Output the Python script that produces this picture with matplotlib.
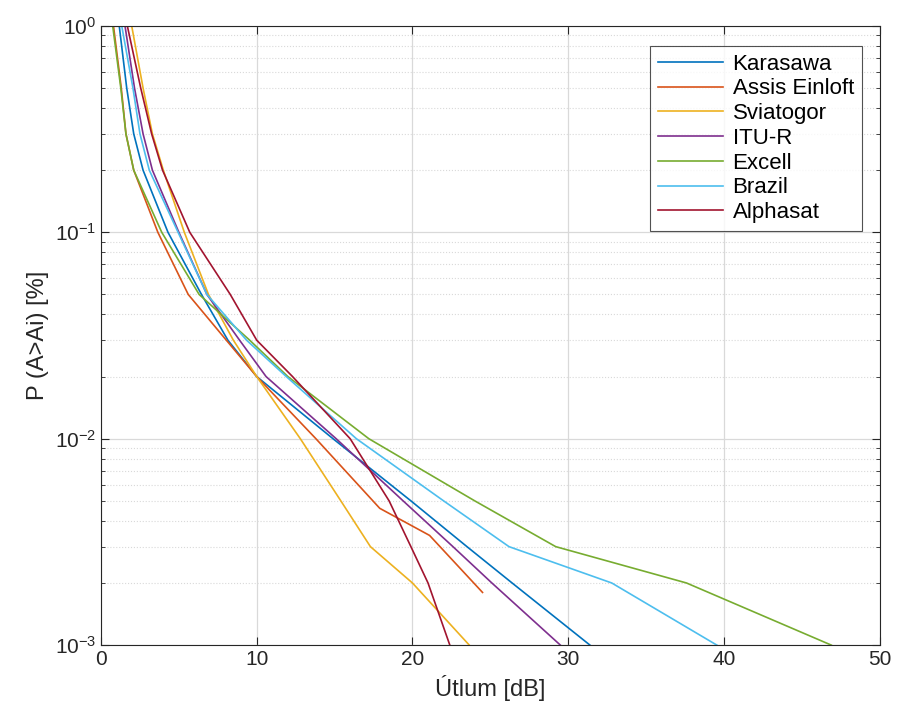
import numpy as np
import matplotlib
matplotlib.use('Agg')
import matplotlib.pyplot as plt
from matplotlib.ticker import LogLocator, NullFormatter

plt.rcParams['font.family'] = ['Liberation Sans', 'DejaVu Sans']
plt.rcParams['axes.unicode_minus'] = False

# percentage of time (P) and attenuation (dB) per model
p_std = [1, 0.5, 0.3, 0.2, 0.1, 0.05, 0.03, 0.02, 0.01, 0.005, 0.003, 0.002, 0.001]

karasawa = [1.17, 1.65, 2.1, 2.7, 4.3, 6.45, 8.15, 10.0, 14.9, 19.9, 23.5, 26.4, 31.4]
sviatogor = [1.97, 2.7, 3.3, 4.0, 5.35, 6.9, 8.5, 10.0, 12.8, 15.4, 17.3, 20.0, 23.65]
itur = [1.54, 2.15, 2.7, 3.3, 5.0, 6.8, 8.9, 10.6, 15.1, 19.4, 22.6, 25.1, 29.5]
excell = [0.75, 1.27, 1.6, 2.1, 3.9, 6.3, 9.55, 12.0, 17.2, 24.0, 29.2, 37.6, 46.9]
brazil = [1.33, 2.05, 2.5, 3.1, 4.95, 6.8, 9.35, 11.9, 16.4, 22.0, 26.2, 32.8, 39.55]
alphasat = [1.69, 2.55, 3.25, 3.95, 5.7, 8.3, 10.0, 12.3, 16.0, 18.5, 19.9, 21.0, 22.4]

# Assis Einloft stops before 0.001 %
p_assis = [1, 0.5, 0.3, 0.2, 0.1, 0.05, 0.03, 0.02, 0.01, 0.0046, 0.0034, 0.0018]
assis = [0.8, 1.3, 1.6, 2.1, 3.65, 5.6, 8.05, 10.0, 13.8, 17.9, 21.1, 24.5]

names = ['Karasawa', 'Assis Einloft', 'Sviatogor', 'ITU-R', 'Excell', 'Brazil', 'Alphasat']
colors = ['#0072BD', '#D95319', '#EDB120', '#7E2F8E', '#77AC30', '#4DBEEE', '#A2142F']

fig = plt.figure(figsize=(8.98, 7.2), dpi=100)
ax = fig.add_axes([0.1125, 0.104, 0.867, 0.86])

series = [(karasawa, p_std), (assis, p_assis), (sviatogor, p_std), (itur, p_std),
          (excell, p_std), (brazil, p_std), (alphasat, p_std)]
for (x, p), name, c in zip(series, names, colors):
    ax.plot(x, p, color=c, lw=1.2, label=name)

ax.set_yscale('log')
ax.set_xlim(0, 50)
ax.set_ylim(1e-3, 1)
ax.set_xticks([0, 10, 20, 30, 40, 50])
ax.yaxis.set_major_locator(LogLocator(base=10, numticks=10))
ax.yaxis.set_minor_locator(LogLocator(base=10, subs=np.arange(2, 10), numticks=20))
ax.yaxis.set_minor_formatter(NullFormatter())

ax.grid(True, which='major', color='#d9d9d9', lw=0.9)
ax.grid(True, which='minor', axis='y', color='#d9d9d9', lw=0.8, ls=':')
ax.set_axisbelow(True)

ax.tick_params(which='both', direction='in', top=True, right=True, colors='#262626',
               labelsize=15)
ax.tick_params(which='major', length=6)
ax.tick_params(which='minor', length=3)
for s in ax.spines.values():
    s.set_color('#262626')
    s.set_linewidth(0.8)

ax.set_xlabel('Útlum [dB]', fontsize=17, color='#262626')
ax.set_ylabel('P (A>Ai) [%]', fontsize=17, color='#262626')

leg = ax.legend(loc='upper right', bbox_to_anchor=(0.977, 0.968), borderaxespad=0,
                fontsize=16, fancybox=False, edgecolor='#262626', handlelength=2.9,
                labelspacing=0.17, borderpad=0.35, handletextpad=0.45)
leg.get_frame().set_linewidth(0.8)

plt.savefig('out.png', dpi=100)
